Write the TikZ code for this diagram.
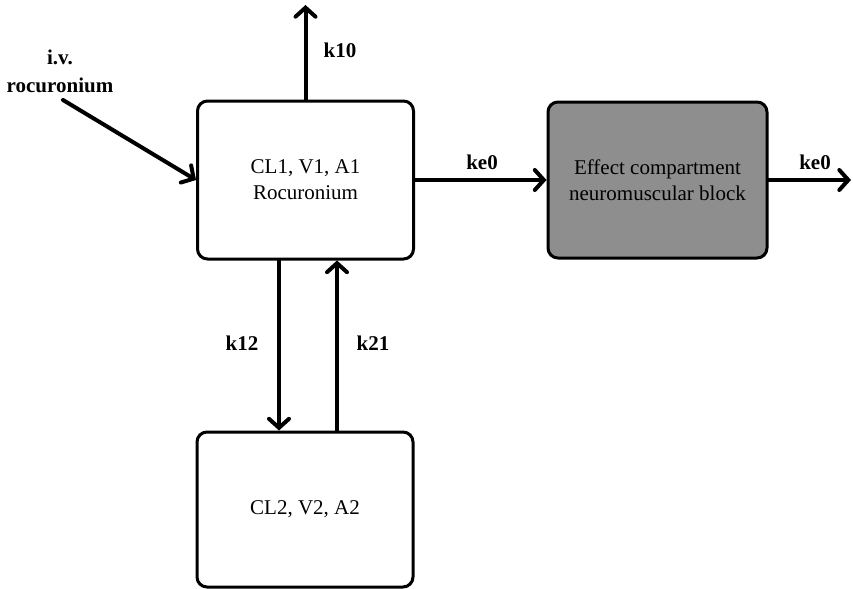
\documentclass[tikz,border=0pt]{standalone}
\usepackage{fontspec}
\setmainfont{Liberation Serif}
\usetikzlibrary{arrows.meta}
\definecolor{effgray}{RGB}{142,142,142}
\begin{document}
\begin{tikzpicture}[x=0.5pt,y=-0.5pt,
  box/.style={draw, line width=1.5pt, rounded corners=5pt, align=center,
    font=\fontsize{10.5}{13}\selectfont, inner sep=0pt},
  flow/.style={line width=2pt, line cap=round,
    -{Straight Barb[length=4.5pt,width=10pt,line width=2pt,line cap=round]}},
  lab/.style={font=\bfseries\fontsize{10.5}{14}\selectfont, align=center, inner sep=0pt}]
\useasboundingbox (0,0) rectangle (853,589);
\node[box, minimum width=108pt, minimum height=79pt] (c1) at (305.5,180) {CL1, V1, A1\\Rocuronium};
\node[box, fill=effgray, minimum width=109.5pt, minimum height=78pt] (eff) at (657.5,180) {Effect compartment\\neuromuscular block};
\node[box, minimum width=108pt, minimum height=77.5pt] (c2) at (305,509.5) {CL2, V2, A2};
\coordinate (k10top) at (305.5,5);
\coordinate (ivs) at (63,100);
\coordinate (out) at (851,180);
\coordinate (x12) at (279,0);
\coordinate (x21) at (337,0);
\draw[flow] (c1.north) -- (k10top);
\draw[flow] (ivs) -- (c1.west);
\draw[flow] (c1.east) -- (eff.west);
\draw[flow] (eff.east) -- (out);
\draw[flow] (c1.south -| x12) -- (c2.north -| x12);
\draw[flow] (c2.north -| x21) -- (c1.south -| x21);
\node[lab] (iv) at (60,71) {i.v.\\rocuronium};
\node[lab] (l10) at (340,50) {k10};
\node[lab] (le1) at (482,162) {ke0};
\node[lab] (le2) at (815,162) {ke0};
\node[lab] (l12) at (242,343) {k12};
\node[lab] (l21) at (373,343) {k21};
\end{tikzpicture}
\end{document}
